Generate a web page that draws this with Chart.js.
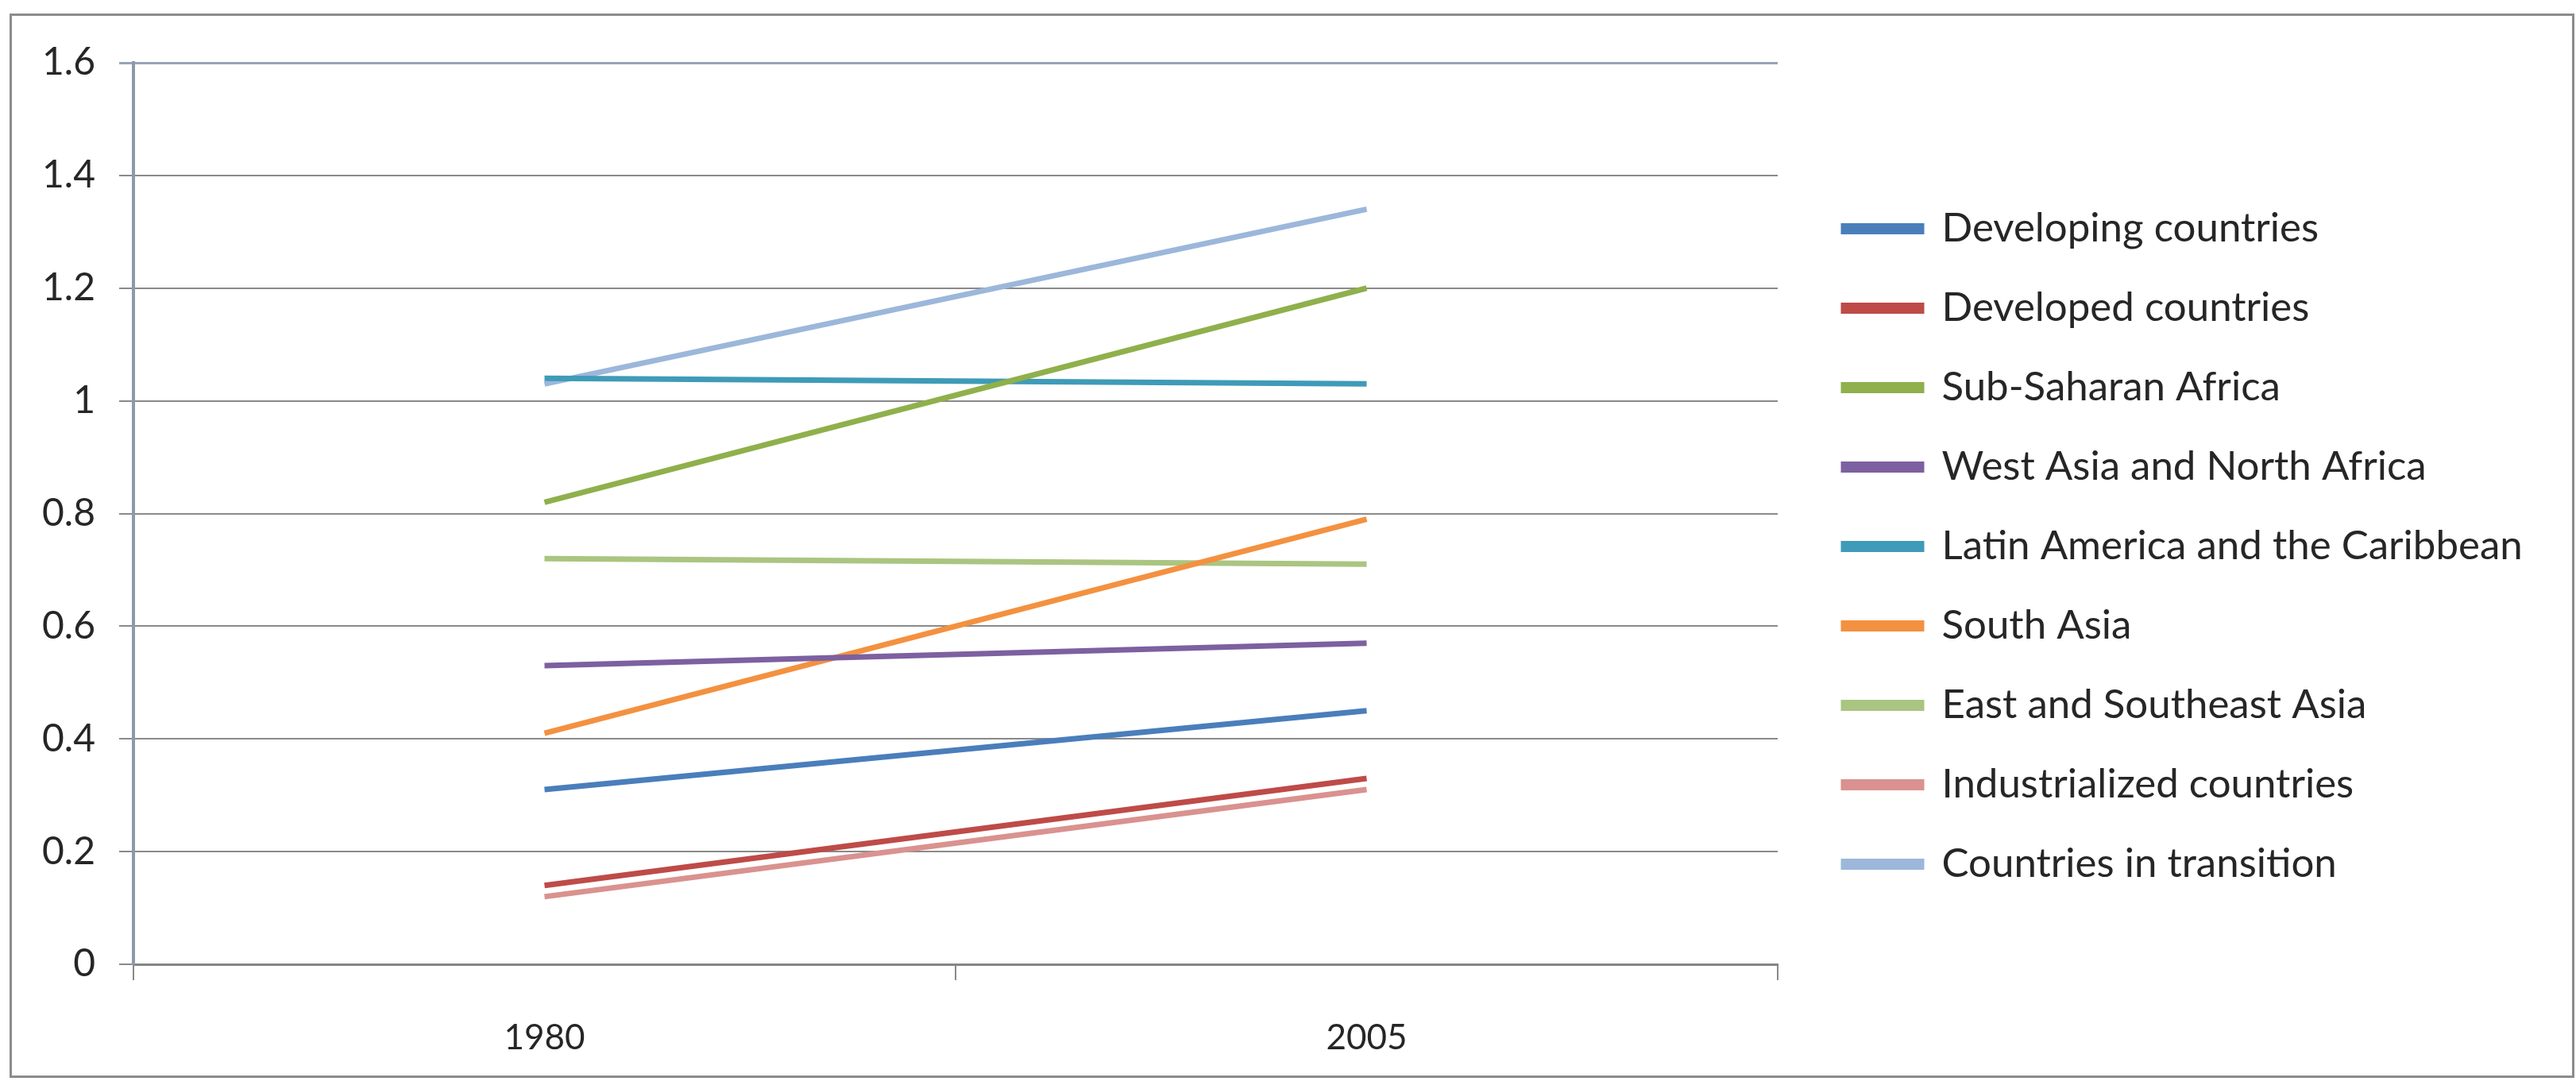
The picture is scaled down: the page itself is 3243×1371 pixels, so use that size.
<!DOCTYPE html>
<html>
<head>
<meta charset="utf-8">
<script src="https://cdn.jsdelivr.net/npm/chart.js@4/dist/chart.umd.min.js"></script>
<style>
html,body{margin:0;padding:0;background:#fff;}
#wrap{position:relative;width:3243px;height:1371px;overflow:hidden;}
#frame{position:absolute;left:12px;top:17px;width:3223px;height:1334px;border:3px solid #8c8c8c;}
canvas{position:absolute;left:0;top:0;}
</style>
</head>
<body>
<div id="wrap"><div id="frame"></div><canvas id="c" width="3243" height="1371"></canvas></div>
<script>
// ---- data ----
const categories = ['1980', '2005'];
const seriesNames = [
  'Developing countries',
  'Developed countries',
  'Sub-Saharan Africa',
  'West Asia and North Africa',
  'Latin America and the Caribbean',
  'South Asia',
  'East and Southeast Asia',
  'Industrialized countries',
  'Countries in transition'
];
const developingCountries = [0.31, 0.45];
const developedCountries = [0.14, 0.33];
const subSaharanAfrica = [0.82, 1.20];
const westAsiaNorthAfrica = [0.53, 0.57];
const latinAmericaCaribbean = [1.04, 1.03];
const southAsia = [0.41, 0.79];
const eastSoutheastAsia = [0.72, 0.71];
const industrializedCountries = [0.12, 0.31];
const countriesInTransition = [1.03, 1.34];
const yTickLabels = ['0', '0.2', '0.4', '0.6', '0.8', '1', '1.2', '1.4', '1.6'];

// ---- styles ----
const seriesValues = [developingCountries, developedCountries, subSaharanAfrica, westAsiaNorthAfrica,
  latinAmericaCaribbean, southAsia, eastSoutheastAsia, industrializedCountries, countriesInTransition];
const seriesColors = ['#4a7ebb', '#be4b48', '#8fb04c', '#7d60a0', '#3f9bb8', '#f39140', '#aac581', '#d9928f', '#9cb7da'];

const FONT = 'Lato, "DejaVu Sans", sans-serif';
const LEGEND_W = 1005;
const LEGEND_SHIFT_X = 34;
const LEGEND_SHIFT_Y = -37;

const legendFix = {
  id: 'legendFix',
  afterInit(chart) {
    const lg = chart.legend;
    const origFit = lg.fit.bind(lg);
    lg.fit = function () { origFit(); if (!this.isHorizontal()) this.width = LEGEND_W; };
  },
  afterLayout(chart) {
    const lg = chart.legend;
    lg.left += LEGEND_SHIFT_X;
    lg.right += LEGEND_SHIFT_X;
    lg.top += LEGEND_SHIFT_Y;
    lg.bottom += LEGEND_SHIFT_Y;
  }
};

new Chart(document.getElementById('c'), {
  type: 'line',
  data: {
    labels: categories,
    datasets: seriesNames.map((name, i) => ({
      label: name,
      data: seriesValues[i],
      borderColor: seriesColors[i],
      backgroundColor: seriesColors[i],
      borderWidth: 7,
      pointRadius: 0,
      tension: 0,
      fill: false
    }))
  },
  options: {
    responsive: false,
    animation: false,
    devicePixelRatio: 1,
    layout: { padding: { top: 79, left: 0, right: 0, bottom: 0 } },
    plugins: {
      tooltip: { enabled: false },
      legend: {
        position: 'right',
        align: 'center',
        labels: {
          font: { family: FONT, size: 51 },
          color: '#262626',
          boxWidth: 98,
          boxHeight: 7,
          padding: 49
        }
      }
    },
    scales: {
      x: {
        offset: true,
        grid: { offset: true, drawOnChartArea: false, drawTicks: true, tickLength: 20, color: '#8a8a8a', lineWidth: 2 },
        border: { display: true, color: '#858585', width: 3 },
        ticks: { font: { family: FONT, size: 44 }, color: '#262626', padding: 46, maxRotation: 0, autoSkip: false },
        afterFit(s) { s.height = 157; }
      },
      y: {
        min: 0,
        max: 1.6,
        ticks: {
          stepSize: 0.2,
          callback: (v, i) => yTickLabels[i],
          font: { family: FONT, size: 48 },
          color: '#262626',
          padding: 30
        },
        grid: {
          color: (ctx) => ctx.index === yTickLabels.length - 1 ? '#98a4b6' : '#8a8a8a',
          lineWidth: (ctx) => ctx.index === yTickLabels.length - 1 ? 3 : 2,
          tickLength: 18
        },
        border: { display: true, color: '#8d99ab', width: 4 },
        afterFit(s) { s.width = 168; }
      }
    }
  },
  plugins: [legendFix]
});
</script>
</body>
</html>
